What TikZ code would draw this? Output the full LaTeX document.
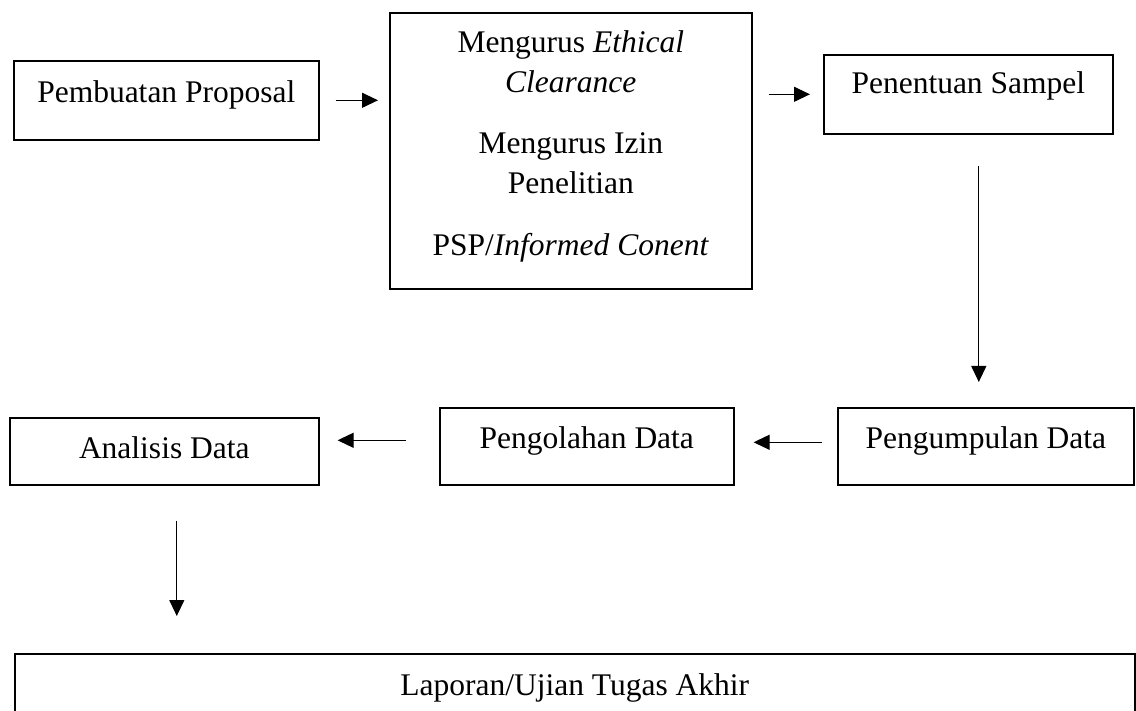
\documentclass[tikz,border=0pt]{standalone}
\usepackage{fontspec}
\setmainfont{Liberation Serif}
\usetikzlibrary{arrows.meta}
\newcommand{\boxfont}{\fontsize{31.5}{40}\selectfont}
\begin{document}
\begin{tikzpicture}[x=1pt, y=-1pt,
    box/.style={draw, line width=1.6pt, inner sep=0pt, anchor=north west, font=\boxfont},
    arr/.style={-{Triangle[length=16pt, width=15pt]}, line width=1.2pt}]
            % Cadre
            \useasboundingbox (0,0) rectangle (1136,711);
            \clip (0,0) rectangle (1136,711);

            % Ligne du haut
            \node[box, minimum width=305pt, text height=42pt, text depth=37pt] (prop) at (13,60) {Pembuatan Proposal};
            \node[box, minimum width=362pt, text height=40pt, text depth=236pt] (izin) at (389,12)
                {\begin{tabular}[t]{@{}c@{}}
                    Mengurus \textit{Ethical}\\
                    \textit{Clearance}\\[21pt]
                    Mengurus Izin\\
                    Penelitian\\[22pt]
                    PSP/\textit{Informed Conent}
                 \end{tabular}};
            \node[box, minimum width=289pt, text height=39pt, text depth=40pt] (sampel) at (823,54) {Penentuan Sampel};

            % Ligne du milieu
            \node[box, minimum width=296pt, text height=41pt, text depth=36pt] (kumpul) at (837,407) {Pengumpulan Data};
            \node[box, minimum width=294pt, text height=41pt, text depth=36pt] (olah) at (439,407) {Pengolahan Data};
            \node[box, minimum width=309pt, text height=41pt, text depth=26pt] (analisis) at (9,417) {Analisis Data};

            % Bas
            \node[box, minimum width=1120pt, text height=42pt, text depth=40pt] (laporan) at (14,653) {Laporan/Ujian Tugas Akhir};

            % Flèches
            \draw[arr, shorten <=16pt, shorten >=11pt] (prop.east) -- (prop.east -| izin.west);
            \draw[arr, shorten <=16pt, shorten >=13pt] (sampel.west -| izin.east) -- (sampel.west);
            \draw[arr, shorten <=31pt, shorten >=25pt] ([xshift=10.5pt]sampel.south) -- ([xshift=10.5pt]sampel.south |- kumpul.north);
            \draw[arr, shorten <=15pt, shorten >=19pt] ([yshift=4pt]kumpul.west) -- ([yshift=4pt]kumpul.west -| olah.east);
            \draw[arr, shorten <=33pt, shorten >=18pt] ([yshift=6pt]olah.west) -- ([yshift=6pt]olah.west -| analisis.east);
            \draw[arr, shorten <=35pt, shorten >=37pt] ([xshift=12.5pt]analisis.south) -- ([xshift=12.5pt]analisis.south |- laporan.north);
\end{tikzpicture}
\end{document}
